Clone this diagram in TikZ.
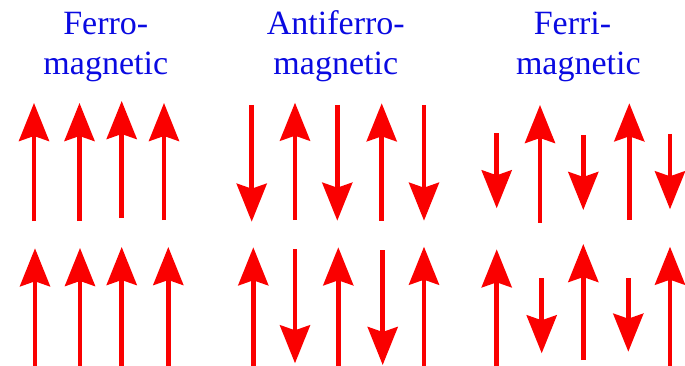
\documentclass[tikz,border=0pt]{standalone}
\usepackage{fontspec}
\setmainfont{Liberation Serif}
\usetikzlibrary{arrows.meta}
\definecolor{labelblue}{RGB}{10,10,225}
\definecolor{spinred}{RGB}{250,0,0}
\begin{document}
\begin{tikzpicture}[x=1pt,y=-1pt,
  spin/.style={draw=spinred,line width=4.5pt,-{Stealth[length=38pt,width=30pt,inset=5pt,fill=spinred]}},
  lbl/.style={anchor=base,inner sep=0pt,text=labelblue,font=\fontsize{34}{40}\selectfont}]
\useasboundingbox (0,0) rectangle (685,366);
% labels
\node[lbl] (f1) at (105.8,35) {Ferro-};
\node[lbl] (f2) at (105.8,75) {magnetic};
\node[lbl] (a1) at (335.8,35) {Antiferro-};
\node[lbl] (a2) at (335.8,75) {magnetic};
\node[lbl] (r1) at (572.5,35) {Ferri-};
\node[lbl] (r2) at (578.3,75) {magnetic};
% ferromagnetic
\draw[spin] (34,221) -- (34,103);
\draw[spin] (79.5,221) -- (79.5,103);
\draw[spin] (121.7,218) -- (121.7,101);
\draw[spin] (164,220) -- (164,103);
\draw[spin] (35,366) -- (35,248.3);
\draw[spin] (80,366) -- (80,248);
\draw[spin] (121.7,366) -- (121.7,247);
\draw[spin] (168.3,366) -- (168.3,247);
% antiferromagnetic
\draw[spin] (251.7,105) -- (251.7,221.7);
\draw[spin] (295,220) -- (295,102.7);
\draw[spin] (337.3,105) -- (337.3,220.7);
\draw[spin] (381.7,220.7) -- (381.7,103.3);
\draw[spin] (424,105) -- (424,220.7);
\draw[spin] (253.3,366) -- (253.3,247.3);
\draw[spin] (295,249.3) -- (295,363.3);
\draw[spin] (338.3,366) -- (338.3,247.3);
\draw[spin] (382.7,250) -- (382.7,365);
\draw[spin] (424,366) -- (424,246.7);
% ferrimagnetic
\draw[spin] (496.7,133.3) -- (496.7,208.3);
\draw[spin] (540,222.7) -- (540,105);
\draw[spin] (583.3,135) -- (583.3,210);
\draw[spin] (629.3,220) -- (629.3,103.3);
\draw[spin] (670,134) -- (670,209.3);
\draw[spin] (496.7,366) -- (496.7,249.3);
\draw[spin] (541.7,278.3) -- (541.7,353.3);
\draw[spin] (583.3,360) -- (583.3,244);
\draw[spin] (628.3,278.3) -- (628.3,351.7);
\draw[spin] (670,366) -- (670,246.7);
\end{tikzpicture}
\end{document}
